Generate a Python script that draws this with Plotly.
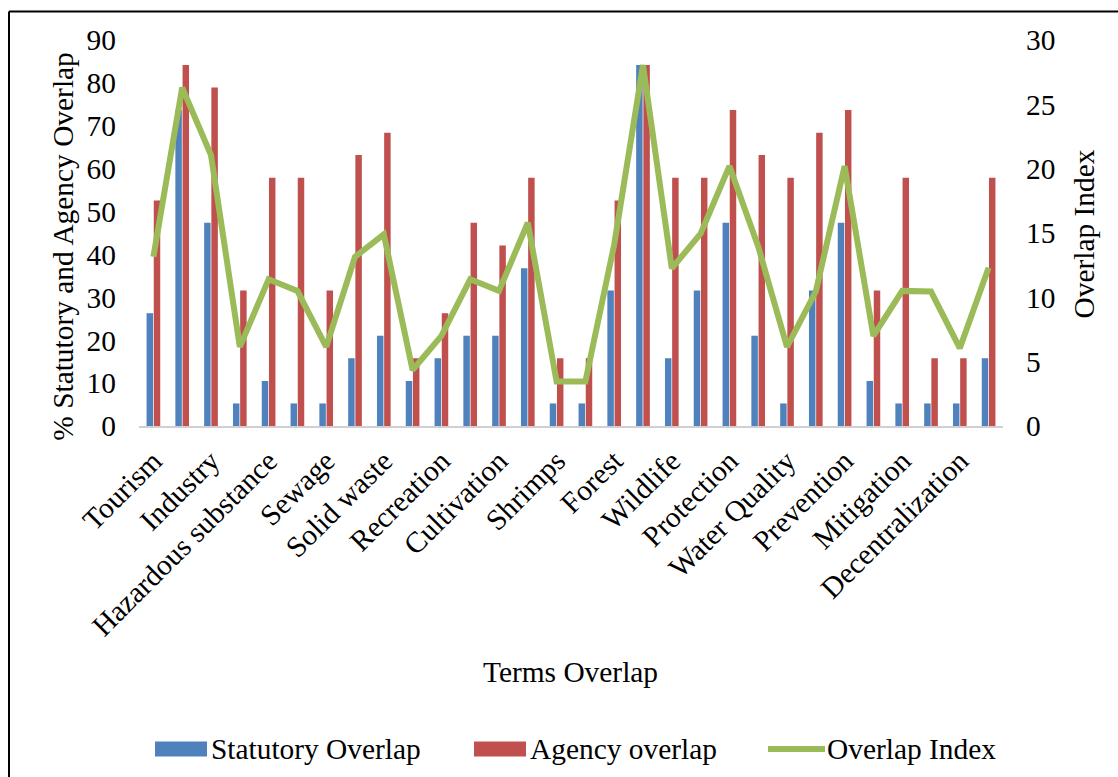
import plotly.graph_objects as go

# ---- data -------------------------------------------------------------
term_labels = [
    "Tourism", "Industry", "Hazardous substance", "Sewage", "Solid waste",
    "Recreation", "Cultivation", "Shrimps", "Forest", "Wildlife",
    "Protection", "Water Quality", "Prevention", "Mitigation", "Decentralization",
]
label_step = 2  # one named term every second category

statutory_overlap = [
    26.3, 73.7, 47.4, 5.26, 10.5, 5.26, 5.26, 15.8, 21.05, 10.5,
    15.8, 21.05, 21.05, 36.8, 5.26, 5.26, 31.6, 84.2, 15.8, 31.6,
    47.4, 21.05, 5.26, 31.6, 47.4, 10.5, 5.26, 5.26, 5.26, 15.8,
]
agency_overlap = [
    52.6, 84.2, 78.9, 31.6, 57.9, 57.9, 31.6, 63.2, 68.4, 15.8,
    26.3, 47.4, 42.1, 57.9, 15.8, 15.8, 52.6, 84.2, 57.9, 57.9,
    73.7, 63.2, 57.9, 68.4, 73.7, 31.6, 57.9, 15.8, 15.8, 57.9,
]
overlap_index = [
    13.15, 26.3, 21.05, 6.15, 11.4, 10.5, 6.15, 13.15, 14.9, 4.35,
    7.0, 11.4, 10.5, 15.8, 3.45, 3.45, 14.1, 28.05, 12.25, 14.95,
    20.2, 13.95, 6.15, 10.45, 20.2, 7.0, 10.5, 10.45, 6.05, 12.3,
]

# ---- layout geometry (pixels) ------------------------------------------
W, H = 1118, 777
ML, MR, MT, MB = 139, 115, 40, 351
PW, PH = W - ML - MR, H - MT - MB

def px(x):
    return (x - ML) / PW

def py(y):
    return (H - MB - y) / PH

FONT = "Liberation Serif, Times New Roman, serif"
FS = 29.4
BLUE, RED, GREEN = "#4F81BD", "#C0504D", "#9BBB59"

xs = list(range(len(statutory_overlap)))
tick_vals = xs[::label_step]

fig = go.Figure()
fig.add_trace(go.Bar(x=xs, y=statutory_overlap, name="Statutory Overlap",
                     marker=dict(color=BLUE, line=dict(width=0))))
fig.add_trace(go.Bar(x=xs, y=agency_overlap, name="Agency overlap",
                     marker=dict(color=RED, line=dict(width=0))))
fig.add_trace(go.Scatter(x=xs, y=overlap_index, name="Overlap Index", mode="lines",
                         line=dict(color=GREEN, width=6), yaxis="y2"))

fig.update_layout(
    width=W, height=H,
    margin=dict(l=ML, r=MR, t=MT, b=MB, pad=0),
    paper_bgcolor="white", plot_bgcolor="white",
    font=dict(family=FONT, size=FS, color="black"),
    barmode="group", bargap=0.5, bargroupgap=0.1,
    showlegend=False,
    xaxis=dict(
        range=[-0.5, len(xs) - 0.5],
        tickmode="array", tickvals=tick_vals, ticktext=term_labels,
        tickangle=-45, ticks="", showgrid=False, zeroline=False,
        showline=True, linecolor="#D0D0D0", linewidth=2,
        tickfont=dict(family=FONT, size=FS, color="black"),
        ticklabelstandoff=4,
    ),
    yaxis=dict(
        range=[0, 90], dtick=10, ticks="", showgrid=False, zeroline=False,
        showline=False, tickfont=dict(family=FONT, size=FS, color="black"),
        ticklabelstandoff=22,
    ),
    yaxis2=dict(
        range=[0, 30], dtick=5, overlaying="y", side="right", ticks="",
        showgrid=False, zeroline=False, showline=False,
        tickfont=dict(family=FONT, size=FS, color="black"),
        ticklabelstandoff=22,
    ),
)

# axis titles
ann = [
    dict(text="Terms Overlap", x=px(570.5), y=py(672), xanchor="center", yanchor="middle"),
    dict(text="% Statutory and Agency Overlap", x=px(63), y=py(246.7), textangle=-90,
         xanchor="center", yanchor="middle"),
    dict(text="Overlap Index", x=px(1083), y=py(234.5), textangle=-90,
         xanchor="center", yanchor="middle"),
]

# legend row along the bottom
LEG_Y = 749
legend_items = [
    ("rect", BLUE, 155, 207, "Statutory Overlap", 209),
    ("rect", RED, 474, 526, "Agency overlap", 528),
    ("line", GREEN, 768, 825, "Overlap Index", 825),
]
shapes = []
for kind, color, x0, x1, label, tx in legend_items:
    if kind == "rect":
        shapes.append(dict(type="rect", xref="paper", yref="paper",
                           x0=px(x0), x1=px(x1), y0=py(LEG_Y - 7.5), y1=py(LEG_Y + 7.5),
                           fillcolor=color, line=dict(width=0)))
    else:
        shapes.append(dict(type="line", xref="paper", yref="paper",
                           x0=px(x0), x1=px(x1), y0=py(LEG_Y), y1=py(LEG_Y),
                           line=dict(color=color, width=6)))
    ann.append(dict(text=label, x=px(tx), y=py(LEG_Y), xanchor="left", yanchor="middle"))

# frame on the top and left edges
shapes.append(dict(type="line", xref="paper", yref="paper", x0=px(9), x1=px(W + 5),
                   y0=py(11.5), y1=py(11.5), line=dict(color="black", width=2)))
shapes.append(dict(type="line", xref="paper", yref="paper", x0=px(9), x1=px(9),
                   y0=py(11.5), y1=py(H + 5), line=dict(color="black", width=2)))

for a in ann:
    a.update(xref="paper", yref="paper", showarrow=False,
             font=dict(family=FONT, size=FS, color="black"))

fig.update_layout(annotations=ann, shapes=shapes)
fig.write_html("out.html")
